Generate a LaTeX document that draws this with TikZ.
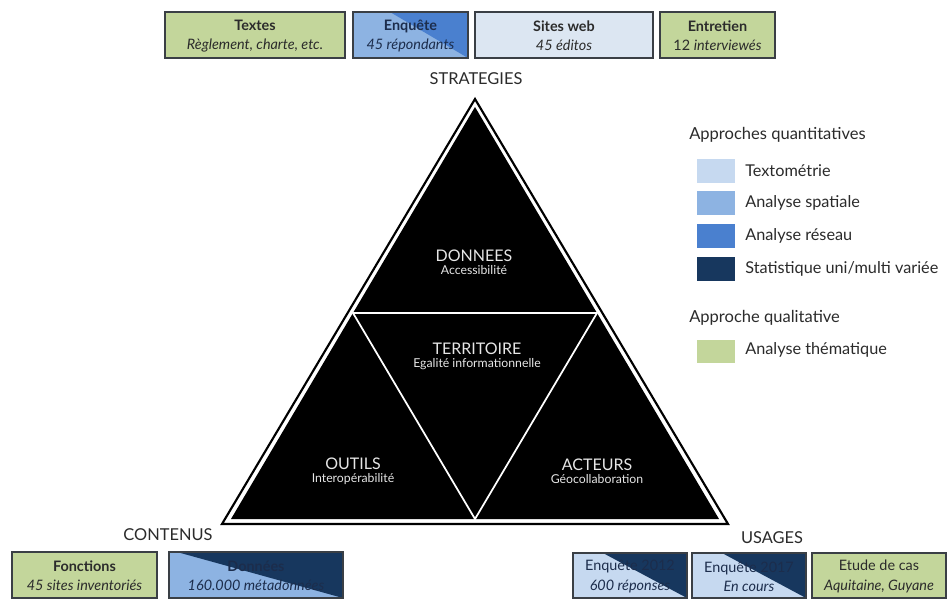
\documentclass[tikz,border=0pt]{standalone}
\usepackage{fontspec}
\setmainfont{Lato}
\definecolor{boxline}{HTML}{3A3F45}
\definecolor{vert}{HTML}{C3D69B}
\definecolor{texto}{HTML}{C6D9F0}
\definecolor{siteweb}{HTML}{DCE6F2}
\definecolor{spatial}{HTML}{8DB3E2}
\definecolor{reseau}{HTML}{4A80CF}
\definecolor{stat}{HTML}{17375E}
\definecolor{txtdark}{HTML}{2B2B2B}
\definecolor{txtnavy}{HTML}{1C2D4C}
\definecolor{tritext}{HTML}{E6E6E6}
\newcommand{\plainbox}[7]{%
  \filldraw[fill=#6, draw=boxline, line width=1.1pt] (#2,#3) rectangle (#4,#5);
  \node[boxtext] (#1) at ({(#2+#4)/2},{(#3+#5)/2+1}) {#7};}
\newcommand{\splitbox}[9]{%
  \fill[#6] (#2,#3) rectangle (#4,#5);
  \fill[#7] (#8,#3) -- (#4,#3) -- (#4,#5) -- cycle;
  \draw[draw=boxline, line width=1.1pt] (#2,#3) rectangle (#4,#5);
  \node[boxtext, text=txtnavy] (#1) at ({(#2+#4)/2},{(#3+#5)/2+1}) {#9};}
\begin{document}
\begin{tikzpicture}[x=0.75pt,y=-0.75pt,
  boxtext/.style={align=center, inner sep=0pt, text=txtdark, font=\fontsize{10.8}{14.5}\selectfont},
  axis/.style={inner sep=0pt, text=txtdark, font=\fontsize{12.3}{14}\selectfont},
  legtitle/.style={anchor=west, inner sep=0pt, text=txtdark, font=\fontsize{12.4}{14}\selectfont},
  legitem/.style={anchor=west, inner sep=0pt, text=txtdark, font=\fontsize{12.2}{14}\selectfont},
  tri/.style={align=center, inner sep=0pt, text=tritext, font=\fontsize{12}{11}\selectfont},
  trisub/.style={font=\fontsize{9.2}{10}\selectfont},
]
\useasboundingbox (0,0) rectangle (949,600);
\fill[white] (0,0) rectangle (949,600);

% ---------- triangle ----------
\coordinate (A) at (475,99);
\coordinate (B) at (222,524);
\coordinate (C) at (728,524);
\coordinate (iA) at (475,107);
\coordinate (iB) at (231,519);
\coordinate (iC) at (719,519);
\coordinate (mL) at (353,313);
\coordinate (mR) at (597,313);
\coordinate (mB) at (475,519);
\filldraw[fill=white, draw=black, line width=1.6pt, line join=miter] (A) -- (B) -- (C) -- cycle;
\fill[black] (iA) -- (iB) -- (iC) -- cycle;
\draw[white, line width=1.3pt] (mL) -- (mR) -- (mB) -- cycle;

\node[tri] (donnees) at (474,262) {DONNEES\\[-1pt]{\fontsize{9.2}{10}\selectfont Accessibilité}};
\node[tri] (territoire) at (477,356) {TERRITOIRE\\[-1pt]{\fontsize{9.2}{10}\selectfont Egalité informationnelle}};
\node[tri] (outils) at (353,471) {OUTILS\\[-1pt]{\fontsize{9.2}{10}\selectfont Interopérabilité}};
\node[tri] (acteurs) at (597,471) {ACTEURS\\[-1pt]{\fontsize{9.2}{10}\selectfont Géocollaboration}};

% ---------- axis labels ----------
\node[axis] (strategies) at (476,79) {STRATEGIES};
\node[axis] (contenus) at (168,535) {CONTENUS};
\node[axis] (usages) at (772,538) {USAGES};

% ---------- top boxes ----------
\plainbox{textes}{165}{12}{345}{58}{vert}{{\bfseries Textes}\\{\itshape Règlement, charte, etc.}}
\splitbox{enquete}{353}{12}{468}{58}{spatial}{reseau}{390}{{\bfseries Enquête}\\{\itshape 45 répondants}}
\plainbox{sitesweb}{475}{12}{653}{58}{siteweb}{{\bfseries Sites web}\\{\itshape 45 éditos}}
\plainbox{entretien}{660}{12}{775}{58}{vert}{{\bfseries Entretien}\\{12 \itshape interviewés}}

% ---------- bottom boxes ----------
\plainbox{fonctions}{12}{552}{157}{598}{vert}{{\bfseries Fonctions}\\{\itshape 45 sites inventoriés}}
\splitbox{donneesbox}{169}{552}{343}{598}{spatial}{stat}{177}{{\bfseries Données}\\{\itshape 160.000 métadonnées}}
\splitbox{enq2012}{573}{553}{687}{598}{texto}{stat}{603}{{Enquête 2012}\\{\itshape 600 réponses}}
\splitbox{enq2017}{692}{553}{806}{598}{texto}{stat}{722}{{Enquête 2017}\\{\itshape En cours}}
\plainbox{etude}{812}{553}{946}{598}{vert}{{Etude de cas}\\{\itshape Aquitaine, Guyane}}

% ---------- legend ----------
\node[legtitle] (quanti) at (689,135) {Approches quantitatives};
\fill[texto] (697,159) rectangle (735,183);
\node[legitem] (l1) at (745,171) {Textométrie};
\fill[spatial] (697,191) rectangle (735,215);
\node[legitem] (l2) at (745,203) {Analyse spatiale};
\fill[reseau] (697,224) rectangle (735,248);
\node[legitem] (l3) at (745,236) {Analyse réseau};
\fill[stat] (697,257) rectangle (735,281);
\node[legitem] (l4) at (745,269) {Statistique uni/multi variée};
\node[legtitle] (quali) at (689,318) {Approche qualitative};
\fill[vert] (697,340) rectangle (735,363);
\node[legitem] (l5) at (745,350) {Analyse thématique};
\end{tikzpicture}
\end{document}
